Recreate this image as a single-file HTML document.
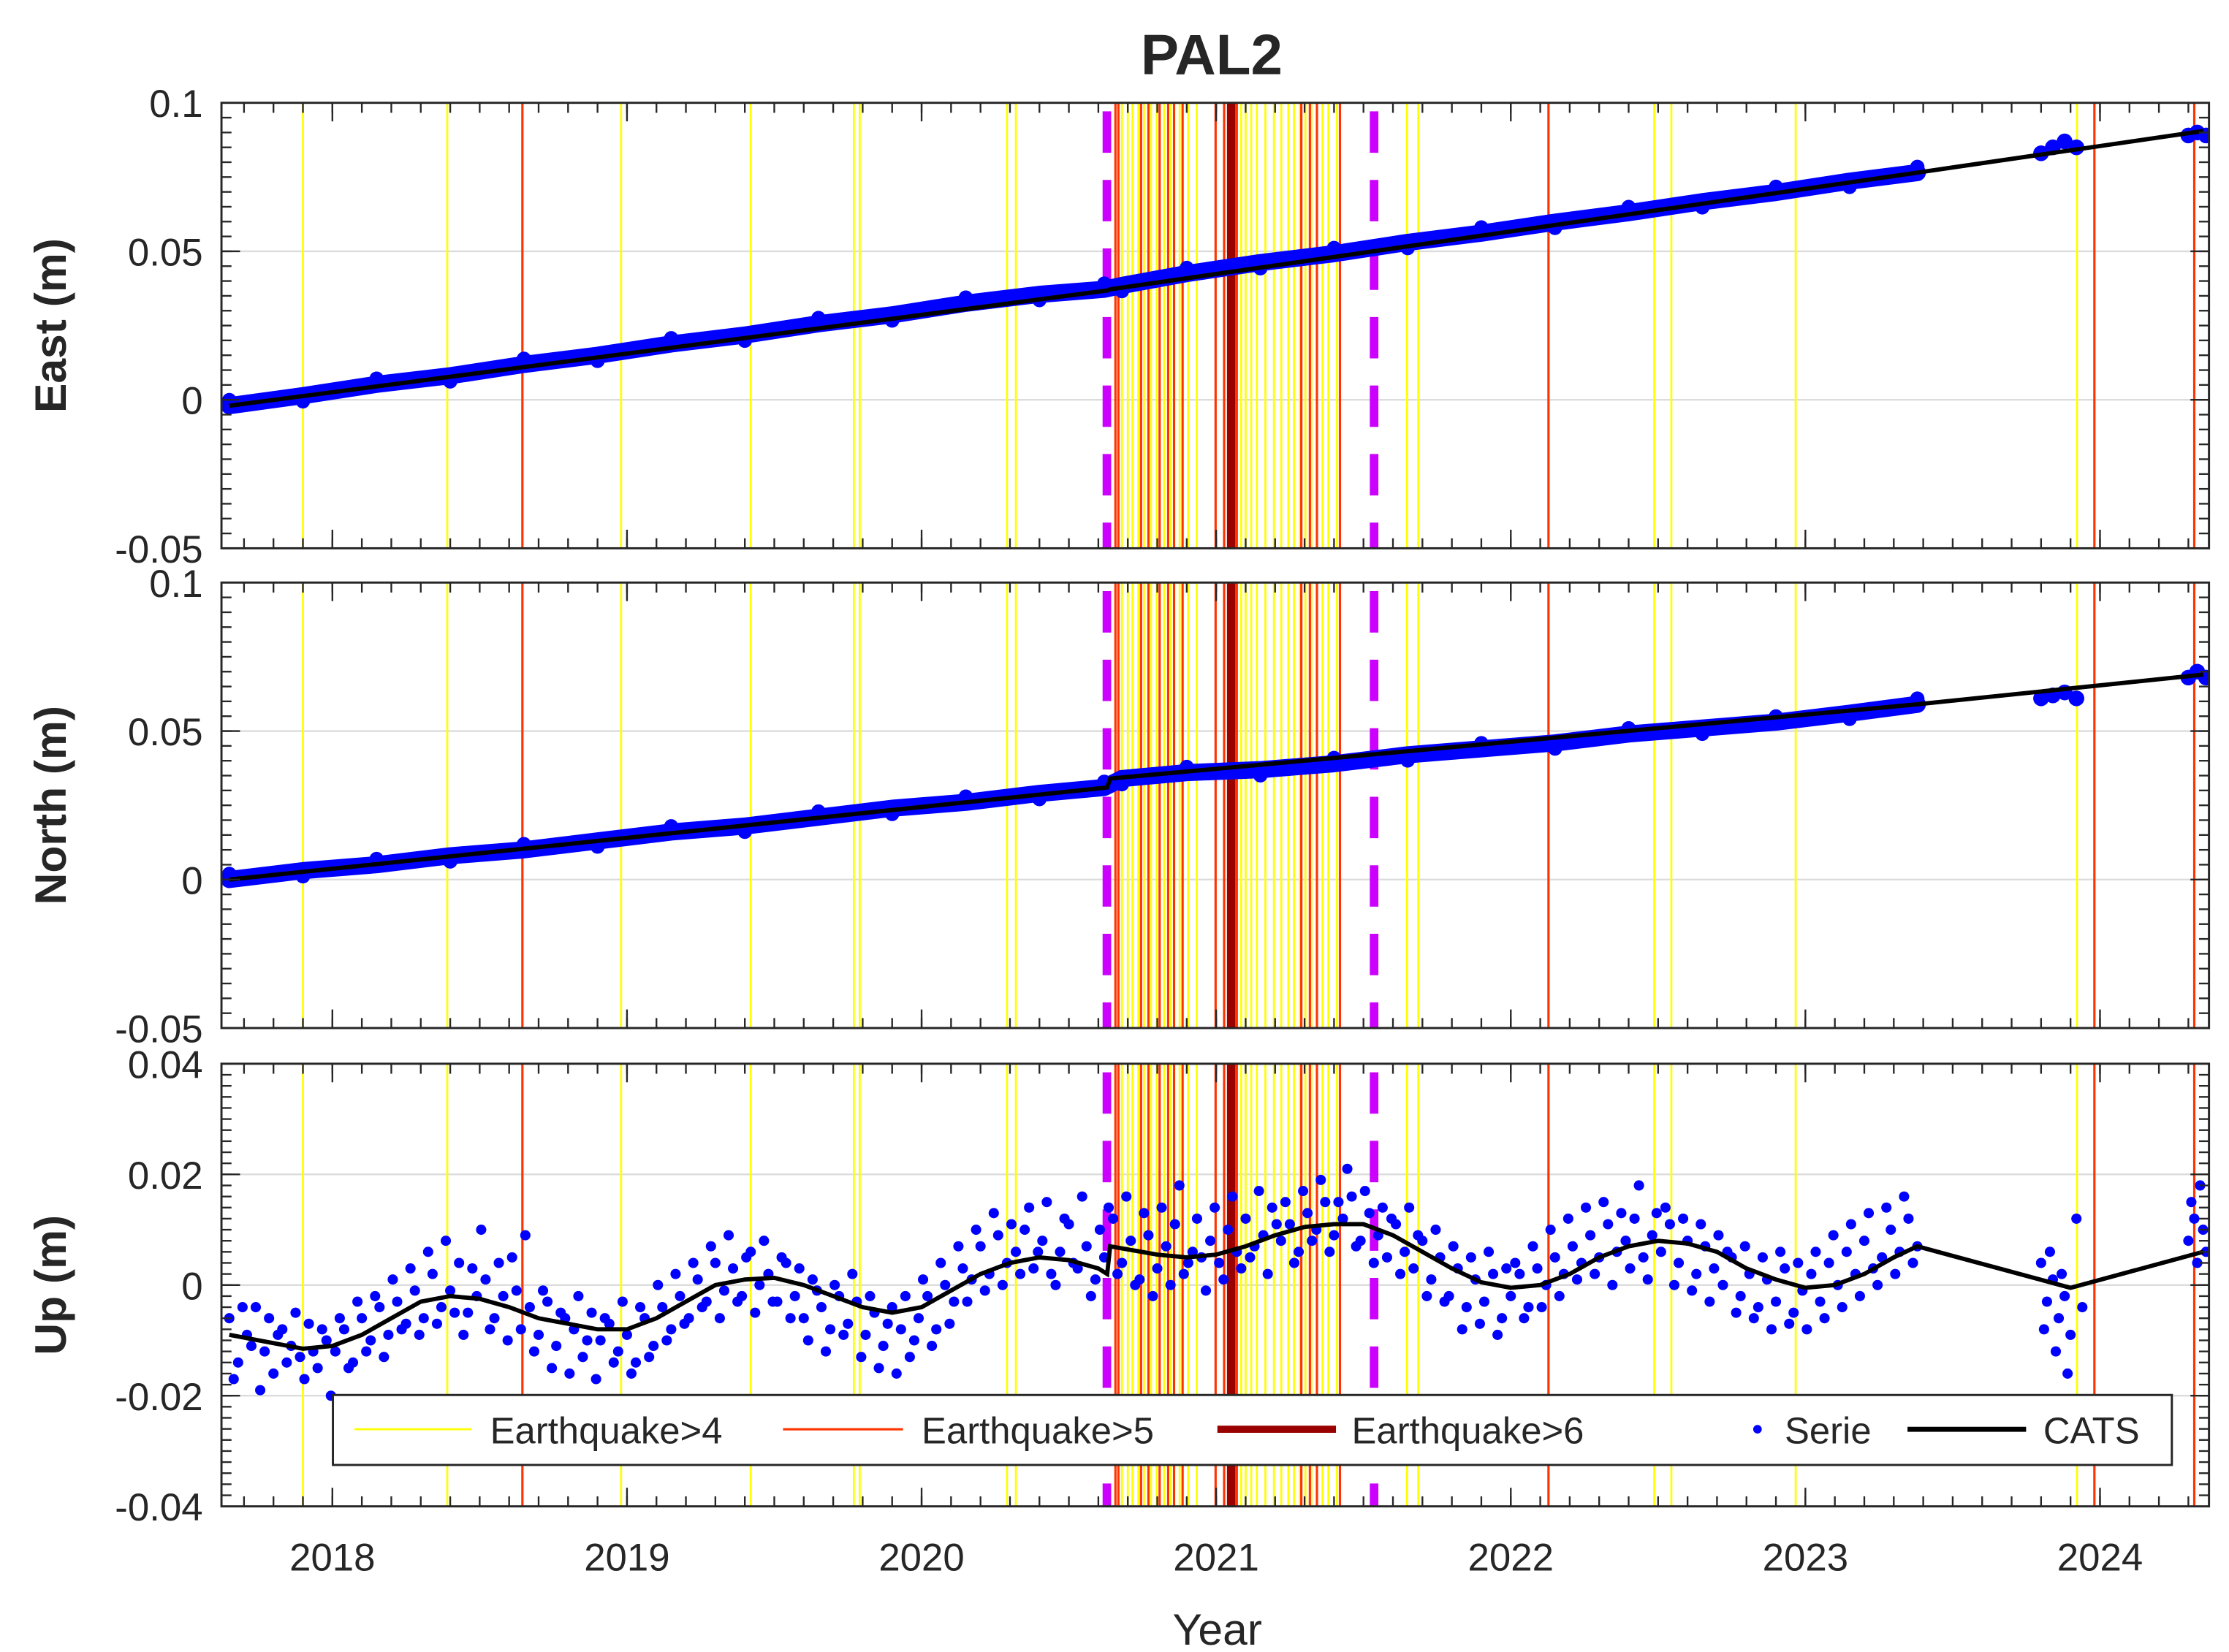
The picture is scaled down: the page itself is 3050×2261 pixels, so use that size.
<!DOCTYPE html>
<html><head><meta charset="utf-8"><style>
html,body{margin:0;padding:0;background:#fff;}
svg{display:block;}
text{font-family:"Liberation Sans",Arial,sans-serif;fill:#262626;}
</style></head><body>
<svg id="chart" xmlns="http://www.w3.org/2000/svg" width="3050" height="2261" viewBox="0 0 1560 1157" preserveAspectRatio="none">
<rect x="0" y="0" width="1560" height="1157" fill="#fff"/>
<text x="848" y="52" text-anchor="middle" font-size="40" font-weight="bold" fill="#000">PAL2</text>
<text x="852" y="1152" text-anchor="middle" font-size="31">Year</text>
</svg>
<script>
// ---- data ----
const yearTicks = [2018,2019,2020,2021,2022,2023,2024];
const eq4Years = [2017.90,2018.39,2018.98,2019.42,2019.77,2019.79,2020.29,2020.32,2020.68,2020.70,2020.716,2020.736,2020.755,2020.779,2020.798,2020.823,2020.847,2020.876,2020.905,2020.934,2021.085,2021.10,2021.119,2021.138,2021.167,2021.196,2021.221,2021.245,2021.264,2021.284,2021.303,2021.323,2021.342,2021.361,2021.381,2021.41,2021.648,2021.686,2022.487,2022.545,2022.967,2023.922];
const eq5Years = [2018.645,2020.658,2020.668,2020.745,2020.77,2020.808,2020.837,2020.857,2020.886,2020.998,2021.027,2021.07,2021.289,2021.318,2021.342,2021.42,2022.128,2023.981,2024.32];
const eq6Years = [2021.051];
const breakYears = [2020.629,2021.536];

const bandTimes = [2017.65,2017.9,2018.15,2018.4,2018.65,2018.9,2019.15,2019.4,2019.65,2019.9,2020.15,2020.4,2020.62,2020.68,2020.9,2021.15,2021.4,2021.65,2021.9,2022.15,2022.4,2022.65,2022.9,2023.15,2023.38];
const eastValues = [-0.002,0.0014,0.0052,0.0081,0.0119,0.0150,0.0188,0.0218,0.0256,0.0286,0.0325,0.0355,0.0372,0.0385,0.0425,0.0462,0.0492,0.0530,0.0561,0.0598,0.0630,0.0667,0.0698,0.0736,0.0765];
const northValues = [0.000,0.003,0.005,0.008,0.010,0.013,0.016,0.018,0.021,0.024,0.026,0.029,0.031,0.034,0.036,0.037,0.039,0.042,0.044,0.046,0.049,0.051,0.053,0.056,0.059];
const clusterTimes = [2023.80,2023.84,2023.88,2023.92,2024.30,2024.33,2024.36];
const eastCluster = [0.083,0.085,0.087,0.085,0.089,0.090,0.089];
const northCluster = [0.061,0.062,0.063,0.061,0.068,0.070,0.068];

const catsTimesEN = [2017.65,2020.63,2020.64,2023.38,2024.35];
const catsEast = [-0.002,0.0368,0.0372,0.0765,0.0905];
const catsNorth = [0.000,0.031,0.034,0.059,0.069];

const upStart = 2017.65, upStep = 0.03;
const upValues = [
-0.006,-0.014,-0.009,-0.004,-0.012,-0.016,-0.008,-0.011,-0.013,-0.007,-0.015,-0.010,
-0.012,-0.008,-0.014,-0.006,-0.010,-0.004,-0.009,-0.003,-0.007,-0.001,-0.006,0.002,-0.004,-0.001,0.004,-0.005,-0.002,
0.001,-0.006,-0.002,0.005,-0.008,-0.004,-0.009,-0.003,-0.011,-0.006,-0.008,-0.013,-0.005,-0.010,-0.007,-0.012,
-0.009,-0.014,-0.006,-0.011,-0.004,-0.008,-0.002,-0.006,0.001,-0.003,0.004,-0.001,0.003,-0.002,0.006,0.000,0.002,
-0.003,0.004,-0.002,-0.006,0.001,-0.004,-0.008,-0.002,-0.007,-0.003,-0.009,-0.005,-0.011,-0.004,-0.008,-0.013,
-0.006,-0.002,-0.008,0.000,-0.003,0.003,0.001,0.007,0.002,0.009,0.004,0.006,0.010,0.003,0.008,0.002,0.006,0.011,0.003,0.007,0.001,0.005,
0.012,0.004,0.008,0.001,0.009,0.003,0.007,0.011,0.002,0.006,0.005,
0.008,0.004,0.010,0.006,0.012,0.007,0.009,0.014,0.008,0.011,0.006,0.013,0.010,0.015,0.009,0.012,0.016,
0.008,0.013,0.009,0.005,0.011,0.006,0.003,0.008,0.001,0.005,-0.002,0.003,-0.004,0.001,-0.003,0.002,-0.006,
-0.002,0.002,-0.004,0.003,0.000,0.005,0.002,0.007,0.004,0.009,0.005,0.011,0.006,0.008,0.012,0.005,0.009,
0.006,0.011,0.004,0.008,0.002,0.007,0.003,0.000,0.005,-0.002,0.002,-0.004,0.001,-0.003,0.003,-0.005,-0.001,
0.002,-0.003,0.004,0.000,0.006,0.002,0.008,0.003,0.005,0.010,0.006,0.012,0.007];
const upStart2 = 2017.665;
const upValues2 = [
-0.017,-0.004,-0.011,-0.019,-0.006,-0.009,-0.014,-0.005,-0.017,-0.012,-0.008,-0.020,
-0.006,-0.015,-0.003,-0.012,-0.002,-0.013,0.001,-0.008,0.003,-0.009,0.006,-0.007,0.008,-0.005,-0.009,0.003,0.010,
-0.008,0.004,-0.010,-0.001,0.009,-0.012,-0.001,-0.015,-0.005,-0.016,-0.002,-0.010,-0.017,-0.006,-0.014,-0.003,
-0.016,-0.004,-0.013,0.000,-0.010,0.002,-0.007,0.004,-0.004,0.007,-0.006,0.009,-0.003,0.005,-0.005,0.008,-0.003,
0.005,-0.006,0.003,-0.010,-0.001,-0.012,0.000,-0.009,0.002,-0.013,-0.002,-0.015,-0.007,-0.016,-0.002,-0.010,
0.001,-0.011,0.004,-0.007,0.007,-0.003,0.010,-0.001,0.013,0.000,0.011,0.002,0.014,0.006,0.015,0.000,0.012,0.004,0.016,-0.002,0.010,0.014,
0.002,0.016,0.000,0.013,-0.002,0.014,0.000,0.018,0.004,0.012,-0.001,
0.014,0.001,0.016,0.003,0.005,0.017,0.002,0.011,0.015,0.004,0.017,0.008,0.019,0.006,0.015,0.021,0.007,
0.017,0.004,0.014,0.012,0.002,0.014,0.009,-0.002,0.010,-0.003,0.007,-0.008,0.005,-0.007,0.006,-0.009,0.003,
0.004,-0.006,0.007,-0.004,0.010,-0.002,0.012,0.001,0.014,0.002,0.015,0.000,0.013,0.003,0.018,0.001,0.013,
0.014,0.000,0.012,-0.001,0.011,-0.003,0.009,0.006,-0.005,0.007,-0.006,0.005,-0.008,0.006,-0.007,0.004,-0.008,
0.006,-0.006,0.009,-0.004,0.011,-0.002,0.013,0.000,0.014,0.002,0.016,0.004];
const upClusterTimes = [2023.80,2023.81,2023.82,2023.83,2023.84,2023.85,2023.86,2023.87,2023.88,2023.89,2023.90,2023.92,2023.94,2024.30,2024.31,2024.32,2024.33,2024.34,2024.35,2024.36];
const upClusterValues = [0.004,-0.008,-0.003,0.006,0.001,-0.012,-0.006,0.002,-0.002,-0.016,-0.009,0.012,-0.004,0.008,0.015,0.012,0.004,0.018,0.010,0.006];
const catsUpTimes = [2017.65,2017.75,2017.9,2018.0,2018.1,2018.2,2018.3,2018.4,2018.5,2018.6,2018.7,2018.8,2018.9,2019.0,2019.1,2019.2,2019.3,2019.4,2019.5,2019.6,2019.7,2019.8,2019.9,2020.0,2020.1,2020.2,2020.3,2020.4,2020.5,2020.6,2020.63,2020.64,2020.8,2020.9,2021.0,2021.1,2021.2,2021.3,2021.4,2021.5,2021.6,2021.7,2021.8,2021.9,2022.0,2022.1,2022.2,2022.3,2022.4,2022.5,2022.6,2022.7,2022.8,2022.9,2023.0,2023.1,2023.2,2023.3,2023.38,2023.9,2024.35];
const catsUpValues = [-0.009,-0.010,-0.0115,-0.011,-0.009,-0.006,-0.003,-0.002,-0.0025,-0.004,-0.006,-0.007,-0.008,-0.008,-0.006,-0.003,0.000,0.001,0.0013,0.000,-0.002,-0.004,-0.005,-0.004,-0.001,0.002,0.004,0.005,0.0045,0.003,0.002,0.007,0.0055,0.005,0.0055,0.007,0.009,0.0105,0.011,0.011,0.009,0.006,0.003,0.0005,-0.0005,0.000,0.002,0.005,0.007,0.008,0.0075,0.006,0.003,0.001,-0.0005,0.000,0.002,0.005,0.007,-0.0005,0.006];

// ---- layout ----
const svg = document.getElementById('chart');
const NS = 'http://www.w3.org/2000/svg';
const L = 155, R = 1546;
const X = t => L + (t - 2017.6235) * (R - L) / (2024.37 - 2017.6235);
const panels = [
 {key:'east', label:'East (m)', top:72, bot:384, min:-0.05, max:0.1, major:[0.1,0.05,0,-0.05], tickText:['0.1','0.05','0','-0.05'], minor:0.005},
 {key:'north', label:'North (m)', top:408, bot:720, min:-0.05, max:0.1, major:[0.1,0.05,0,-0.05], tickText:['0.1','0.05','0','-0.05'], minor:0.005},
 {key:'up', label:'Up (m)', top:745, bot:1055, min:-0.04, max:0.04, major:[0.04,0.02,0,-0.02,-0.04], tickText:['0.04','0.02','0','-0.02','-0.04'], minor:0.002}
];
function mk(tag, attrs, parent){const e=document.createElementNS(NS,tag);for(const k in attrs)e.setAttribute(k,attrs[k]);(parent||svg).appendChild(e);return e;}

panels.forEach((p,pi)=>{
 const Y = v => p.bot - (v - p.min)*(p.bot-p.top)/(p.max-p.min);
 const g = mk('g',{});
 
 
 const clipId='clip'+pi;
 const cp=mk('clipPath',{id:clipId},g); mk('rect',{x:L,y:p.top,width:R-L,height:p.bot-p.top},cp);
 p.major.forEach(v=>{ if(v!==p.max && v!==p.min){const gl=mk('line',{x1:L,x2:R,y1:Y(v),y2:Y(v),stroke:'#dcdcdc','stroke-width':1.2},g);
  
  }});
 const ev = mk('g',{'clip-path':'url(#'+clipId+')'},g);
 eq4Years.forEach(t=>{const l=mk('line',{x1:X(t),x2:X(t),y1:p.top,y2:p.bot,stroke:'#ffff00','stroke-width':1.4},ev);
  
  });
 eq5Years.forEach(t=>{const l=mk('line',{x1:X(t),x2:X(t),y1:p.top,y2:p.bot,stroke:'#ff3300','stroke-width':1.6},ev);
  
  });
 eq6Years.forEach(t=>{const l=mk('line',{x1:X(t),x2:X(t),y1:p.top,y2:p.bot,stroke:'#990000','stroke-width':6},ev);
  
  });
 breakYears.forEach(t=>{const l=mk('line',{x1:X(t),x2:X(t),y1:p.top+6,y2:p.bot,stroke:'#cc00ff','stroke-width':6,'stroke-dasharray':'29 19'},ev);
  
  });
 const dg = mk('g',{'clip-path':'url(#'+clipId+')'},g);
 
 
 if(p.key!=='up'){
  const vals = p.key==='east'?eastValues:northValues;
  const cl = p.key==='east'?eastCluster:northCluster;
  const pre = bandTimes.map((t,i)=>X(t)+','+Y(vals[i])).join(' ');
  mk('polyline',{points:pre,fill:'none',stroke:'#0000ff','stroke-width':12,'stroke-linejoin':'round','stroke-linecap':'round'},dg);
  bandTimes.forEach((t,i)=>{const c=mk('circle',{cx:X(t),cy:Y(vals[i])+(i%2?4:-4),r:5,fill:'#0000ff'},dg);
   
   });
  clusterTimes.forEach((t,i)=>{const c=mk('circle',{cx:X(t),cy:Y(cl[i]),r:5.5,fill:'#0000ff'},dg);
   
   });
  const cv = p.key==='east'?catsEast:catsNorth;
  const cats = mk('polyline',{points:catsTimesEN.map((t,i)=>X(t)+','+Y(cv[i])).join(' '),fill:'none',stroke:'#000','stroke-width':3},dg);
  
  
 } else {
  upValues.forEach((v,i)=>{const c=mk('circle',{cx:X(upStart+i*upStep),cy:Y(v),r:3.6,fill:'#0000ff'},dg);
   
   });
  upValues2.forEach((v,i)=>{const c=mk('circle',{cx:X(upStart2+i*upStep),cy:Y(v),r:3.6,fill:'#0000ff'},dg);
   
   });
  upClusterTimes.forEach((t,i)=>{const c=mk('circle',{cx:X(t),cy:Y(upClusterValues[i]),r:3.6,fill:'#0000ff'},dg);
   
   });
  const cats = mk('polyline',{points:catsUpTimes.map((t,i)=>X(t)+','+Y(catsUpValues[i])).join(' '),fill:'none',stroke:'#000','stroke-width':3},dg);
  
  
 }
 const tk = mk('g',{stroke:'#262626','stroke-width':1.2},g);
 const nMinor = Math.round((p.max-p.min)/p.minor);
 for(let i=0;i<=nMinor;i++){const y=Y(p.min+i*p.minor);
  mk('line',{x1:L,x2:L+7,y1:y,y2:y},tk); mk('line',{x1:R-7,x2:R,y1:y,y2:y},tk);}
 p.major.forEach(v=>{const y=Y(v); mk('line',{x1:L,x2:L+13,y1:y,y2:y},tk); mk('line',{x1:R-13,x2:R,y1:y,y2:y},tk);});
 for(let t=2017.7;t<2024.37;t+=0.1){const x=X(t); mk('line',{x1:x,x2:x,y1:p.bot,y2:p.bot-7},tk); mk('line',{x1:x,x2:x,y1:p.top,y2:p.top+7},tk);}
 yearTicks.forEach(t=>{const x=X(t); mk('line',{x1:x,x2:x,y1:p.bot,y2:p.bot-13},tk); mk('line',{x1:x,x2:x,y1:p.top,y2:p.top+13},tk);});
 const fr = mk('rect',{x:L,y:p.top,width:R-L,height:p.bot-p.top,fill:'none',stroke:'#262626','stroke-width':1.5},g);
 
 
 p.major.forEach((v,i)=>{const tx=mk('text',{x:L-13,y:Y(v)+10,'text-anchor':'end','font-size':27},g); tx.textContent=p.tickText[i];
  
  });
 const cy=(p.top+p.bot)/2;
 const yl=mk('text',{x:0,y:0,transform:'translate(46,'+cy+') rotate(-90)','text-anchor':'middle','font-size':31,'font-weight':'bold'},g);
 yl.textContent=p.label;
 
 
 if(pi===2){ yearTicks.forEach(t=>{const tx=mk('text',{x:X(t),y:p.bot+45,'text-anchor':'middle','font-size':27},g); tx.textContent=String(t);
  
  }); }
});

const lg = mk('g',{});


mk('rect',{x:233,y:977,width:1287,height:49,fill:'#fff',stroke:'#262626','stroke-width':1.5},lg);
const entries=[
 {name:'legend-entry-earthquake-4',x1:248,x2:330,tx:343,color:'#ffff00',w:1.4,label:'Earthquake>4'},
 {name:'legend-entry-earthquake-5',x1:548,x2:632,tx:645,color:'#ff3300',w:1.6,label:'Earthquake>5'},
 {name:'legend-entry-earthquake-6',x1:852,x2:935,tx:946,color:'#990000',w:5,label:'Earthquake>6'},
 {name:'legend-entry-cats',x1:1335,x2:1418,tx:1430,color:'#000',w:3.5,label:'CATS'}];
entries.forEach(e=>{const eg=mk('g',{},lg);
 
 
 mk('line',{x1:e.x1,x2:e.x2,y1:1001,y2:1001,stroke:e.color,'stroke-width':e.w},eg);
 const t=mk('text',{x:e.tx,y:1011,'font-size':26,fill:'#000'},eg); t.textContent=e.label;});
const sg=mk('g',{},lg);


mk('circle',{cx:1230,cy:1001,r:3,fill:'#0000ff'},sg);
const st=mk('text',{x:1249,y:1011,'font-size':26,fill:'#000'},sg); st.textContent='Serie';
</script>
</body></html>
